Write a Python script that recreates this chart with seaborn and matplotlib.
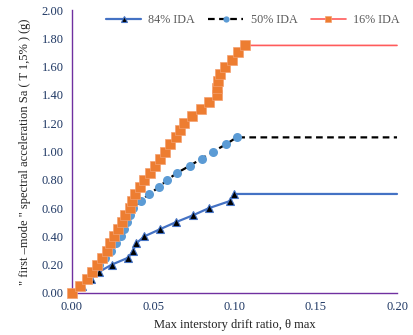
import matplotlib
matplotlib.use("Agg")
import matplotlib.pyplot as plt
from matplotlib.lines import Line2D
import seaborn as sns
import pandas as pd

# Data
y84 = [0.00, 0.05, 0.10, 0.15, 0.20, 0.25, 0.30, 0.35, 0.40, 0.45, 0.50, 0.55, 0.60, 0.65, 0.70, 0.70]
x84 = [0.000, 0.006, 0.0117, 0.0168, 0.0244, 0.0347, 0.0377, 0.0394, 0.0445, 0.054, 0.0638, 0.0746, 0.0843, 0.0972, 0.0997, 0.20]

y50 = [0.00, 0.05, 0.10, 0.15, 0.20, 0.25, 0.30, 0.35, 0.40, 0.45, 0.50, 0.55, 0.60, 0.65, 0.70,
       0.75, 0.80, 0.85, 0.90, 0.95, 1.00, 1.05, 1.10, 1.10]
x50 = [0.000, 0.005, 0.010, 0.013, 0.0165, 0.0205, 0.024, 0.027, 0.030, 0.0318, 0.0336, 0.0355, 0.0377,
       0.0423, 0.0476, 0.0537, 0.0587, 0.0648, 0.0726, 0.0798, 0.087, 0.0946, 0.1013, 0.20]

y16 = [0.00, 0.05, 0.10, 0.15, 0.20, 0.25, 0.30, 0.35, 0.40, 0.45, 0.50, 0.55, 0.60, 0.65, 0.70, 0.75,
       0.80, 0.85, 0.90, 0.95, 1.00, 1.05, 1.10, 1.15, 1.20, 1.25, 1.30, 1.35, 1.40, 1.45, 1.50, 1.55,
       1.60, 1.65, 1.70, 1.75, 1.75]
x16 = [0.000, 0.005, 0.009, 0.0121, 0.0152, 0.0183, 0.0213, 0.0234, 0.0258, 0.0285, 0.0306, 0.0326,
       0.0355, 0.0368, 0.0388, 0.0418, 0.0443, 0.048, 0.0511, 0.0542, 0.0572, 0.0603, 0.064, 0.0665,
       0.069, 0.074, 0.0792, 0.0843, 0.089, 0.0895, 0.0897, 0.0911, 0.0943, 0.0986, 0.102, 0.1065, 0.20]

labels = ["84% IDA", "50% IDA", "16% IDA"]
xticks = [0.00, 0.05, 0.10, 0.15, 0.20]
yticks = [0.00, 0.20, 0.40, 0.60, 0.80, 1.00, 1.20, 1.40, 1.60, 1.80, 2.00]

sns.set_theme(style="white")
plt.rcParams['font.family'] = ['Liberation Serif', 'DejaVu Serif']

fig = plt.figure(figsize=(4.13, 3.35), dpi=100)
ax = fig.add_axes([0.1743, 0.1254, 0.7870, 0.8446])

d84 = pd.DataFrame({"x": x84, "y": y84})
d50 = pd.DataFrame({"x": x50, "y": y50})
d16 = pd.DataFrame({"x": x16, "y": y16})

s84 = dict(color="#4472C4", lw=1.6, marker="^", markerfacecolor="black",
           markeredgecolor="#4472C4", markeredgewidth=0.8)
s50 = dict(color="black", lw=1.6, linestyle=(0, (3, 2)), marker="o", markerfacecolor="#5B9BD5",
           markeredgecolor="#5B9BD5", markeredgewidth=0)
s16 = dict(color="#FF5B5B", lw=1.2, marker="s", markerfacecolor="#ED7D31",
           markeredgecolor="#F4A070", markeredgewidth=0.5)

sns.lineplot(data=d84, x="x", y="y", ax=ax, sort=False, estimator=None, markersize=5.5,
             markevery=list(range(len(x84) - 1)), clip_on=False, zorder=3, legend=False, **s84)
sns.lineplot(data=d50, x="x", y="y", ax=ax, sort=False, estimator=None, markersize=6.5,
             markevery=list(range(len(x50) - 1)), clip_on=False, zorder=4, legend=False, **s50)
sns.lineplot(data=d16, x="x", y="y", ax=ax, sort=False, estimator=None, markersize=7,
             markevery=list(range(len(x16) - 1)), clip_on=False, zorder=5, legend=False, **s16)

ax.set_xlim(0, 0.20)
ax.set_ylim(0, 2.0)
ax.set_xticks(xticks)
ax.set_yticks(yticks)
ax.set_xticklabels([f"{t:.2f}" for t in xticks], color="#1F3864", fontsize=9)
ax.set_yticklabels([f"{t:.2f}" for t in yticks], color="#1F3864", fontsize=9)
ax.tick_params(axis="both", length=0, pad=6)

for side in ["top", "right"]:
    ax.spines[side].set_visible(False)
for side in ["left", "bottom"]:
    ax.spines[side].set_color("#7030A0")
    ax.spines[side].set_linewidth(1.0)

ax.set_xlabel("Max interstory drift ratio, \u03b8 max", fontsize=9, color="#222222", labelpad=4)
ax.set_ylabel("\" first \u2013mode \" spectral acceleration Sa ( T 1,5% ) (g)", fontsize=9,
              color="#222222", labelpad=8)

handles = [Line2D([], [], markersize=4, **s84),
           Line2D([], [], markersize=4.5, **s50),
           Line2D([], [], markersize=4.5, **s16)]
leg = ax.legend(handles, labels, loc="center left", bbox_to_anchor=(0.086, 0.965), ncol=3,
                frameon=False, fontsize=8.7, handlelength=2.9, handletextpad=0.6,
                columnspacing=1.1, borderpad=0, numpoints=1)
for t in leg.get_texts():
    t.set_color("#595959")

fig.savefig("out.png", dpi=100)
